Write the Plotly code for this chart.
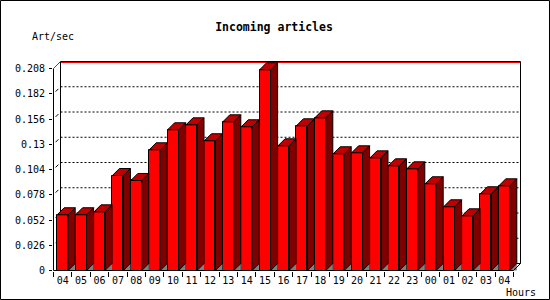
import plotly.graph_objects as go

# ---- data ----
hours = ["04", "05", "06", "07", "08", "09", "10", "11", "12", "13", "14", "15", "16",
         "17", "18", "19", "20", "21", "22", "23", "00", "01", "02", "03", "04"]
rate = [0.0574, 0.0574, 0.0604, 0.0978, 0.0927, 0.1243, 0.1449, 0.1500, 0.1336,
        0.1531, 0.1480, 0.2067, 0.1284, 0.1490, 0.1572, 0.1202, 0.1212, 0.1160,
        0.1078, 0.1047, 0.0893, 0.0656, 0.0563, 0.0790, 0.0872]
ytick_vals = [0, 0.026, 0.052, 0.078, 0.104, 0.13, 0.156, 0.182, 0.208]
ytick_text = ["0", "0.026", "0.052", "0.078", "0.104", "0.13", "0.156", "0.182", "0.208"]
title_text = "Incoming articles"
y_label = "Art/sec"
x_label = "Hours"

# ---- layout geometry ----
W, H = 550, 300
ML, MR, MT, MB = 53, 29, 61, 29
PW, PH = W - ML - MR, H - MT - MB
n = len(rate)
YMAX = ytick_vals[-1]
xpx = 18.4                      # px per category
ypx = 971.15                    # px per unit
DX = 7 / xpx                    # 3D depth in data units
DY = 7 / ypx
BW = 11 / xpx                   # bar front width
xr0 = -0.5 - 0.5 / xpx
xr1 = n - 0.5 + DX + 0.5 / xpx
yr0 = -0.5 / ypx
yr1 = YMAX + DY + 0.5 / ypx

FRONT = "#ff0000"
TOP = "#c00000"
SIDE = "#800000"
GREY = "#808080"

def px_x(p):
    return (p - ML) / PW

def px_y(p):
    return (H - MB - p) / PH

xs = list(range(n))

fig = go.Figure()
fig.add_trace(go.Bar(x=xs, y=rate, width=BW, marker=dict(color=FRONT, line=dict(color="black", width=1)),
                     hoverinfo="skip", showlegend=False))

# 3D faces built from data
top_x, top_y, side_x, side_y, sh_x, sh_y = [], [], [], [], [], []
for i, v in enumerate(rate):
    xl, xr = i - BW / 2, i + BW / 2
    top_x += [xl, xr, xr + DX, xl + DX, xl, None]
    top_y += [v, v, v + DY, v + DY, v, None]
    side_x += [xr, xr + DX, xr + DX, xr, xr, None]
    side_y += [v, v + DY, DY, 0, v, None]
    sh_x += [xr, xr + DX, xr + DX, xr, None]
    sh_y += [0, DY, 0, 0, None]

fig.add_trace(go.Scatter(x=sh_x, y=sh_y, mode="lines", fill="toself", fillcolor=GREY,
                         line=dict(color=GREY, width=0), hoverinfo="skip", showlegend=False))
fig.add_trace(go.Scatter(x=side_x, y=side_y, mode="lines", fill="toself", fillcolor=SIDE,
                         line=dict(color="black", width=1), hoverinfo="skip", showlegend=False))
fig.add_trace(go.Scatter(x=top_x, y=top_y, mode="lines", fill="toself", fillcolor=TOP,
                         line=dict(color="black", width=1), hoverinfo="skip", showlegend=False))

shapes = []
bl, br = -0.5 + DX, n - 0.5 + DX
# back plane grid lines
for v in ytick_vals[1:-1]:
    shapes.append(dict(type="line", xref="x", yref="y", x0=bl, x1=br, y0=v + DY, y1=v + DY,
                       line=dict(color="black", width=1, dash="2px,2px"), layer="below"))
    shapes.append(dict(type="line", xref="x", yref="y", x0=-0.5 + DX * 0.3, x1=-0.5 + DX * 0.7,
                       y0=v + DY * 0.3, y1=v + DY * 0.7, line=dict(color="black", width=1), layer="below"))
# back frame
shapes.append(dict(type="line", xref="x", yref="y", x0=bl, x1=br, y0=YMAX + DY, y1=YMAX + DY,
                   line=dict(color="black", width=1), layer="below"))
shapes.append(dict(type="line", xref="x", yref="y", x0=bl, x1=br, y0=YMAX + DY - 1 / ypx, y1=YMAX + DY - 1 / ypx,
                   line=dict(color="red", width=1), layer="below"))
shapes.append(dict(type="line", xref="x", yref="y", x0=bl, x1=bl, y0=DY, y1=YMAX + DY,
                   line=dict(color="black", width=1), layer="below"))
shapes.append(dict(type="line", xref="x", yref="y", x0=br, x1=br, y0=DY, y1=YMAX + DY,
                   line=dict(color="black", width=1), layer="below"))
shapes.append(dict(type="line", xref="x", yref="y", x0=bl, x1=br, y0=DY, y1=DY,
                   line=dict(color="black", width=1), layer="below"))
# front axes
shapes.append(dict(type="line", xref="x", yref="y", x0=-0.5, x1=-0.5, y0=0, y1=YMAX,
                   line=dict(color="black", width=1)))
shapes.append(dict(type="line", xref="x", yref="y", x0=-0.5, x1=n - 0.5, y0=0, y1=0,
                   line=dict(color="black", width=1)))
shapes.append(dict(type="line", xref="x", yref="y", x0=n - 0.5, x1=br, y0=0, y1=DY,
                   line=dict(color="black", width=1)))
shapes.append(dict(type="line", xref="x", yref="y", x0=-0.5, x1=bl, y0=YMAX, y1=YMAX + DY,
                   line=dict(color="red", width=1)))
# outer border
shapes.append(dict(type="rect", xref="paper", yref="paper", x0=px_x(0.5), x1=px_x(W - 0.5),
                   y0=px_y(H - 0.5), y1=px_y(0.5), line=dict(color="black", width=1)))

mono = "DejaVu Sans Mono"
annotations = [
    dict(text=y_label, xref="paper", yref="paper", x=px_x(30), y=px_y(37), xanchor="left", yanchor="middle",
         showarrow=False, font=dict(family=mono, size=10, color="black")),
    dict(text=x_label, xref="paper", yref="paper", x=px_x(504), y=px_y(292), xanchor="left", yanchor="middle",
         showarrow=False, font=dict(family=mono, size=10, color="black")),
]

fig.update_layout(
    width=W, height=H,
    margin=dict(l=ML, r=MR, t=MT, b=MB, pad=0),
    paper_bgcolor="white", plot_bgcolor="white",
    title=dict(text="<b>" + title_text + "</b>", x=274 / W, xanchor="center", xref="container",
               y=1 - 27 / H, yanchor="middle", yref="container",
               font=dict(family=mono, size=11.5, color="black")),
    shapes=shapes, annotations=annotations, bargap=0,
    showlegend=False,
)
fig.update_xaxes(range=[xr0, xr1], tickmode="array", tickvals=xs, ticktext=hours,
                 ticks="", showgrid=False, zeroline=False, showline=False, ticklabelstandoff=2,
                 tickfont=dict(family=mono, size=10, color="black"),
                 minor=dict(ticks="outside", ticklen=5, tickcolor="black", tickwidth=1,
                            tickmode="array", tickvals=[i - 0.5 for i in range(n + 1)]),
                 fixedrange=True)
fig.update_yaxes(range=[yr0, yr1], tickmode="array", tickvals=ytick_vals, ticktext=ytick_text,
                 ticks="outside", ticklen=3, tickcolor="black", showgrid=False, zeroline=False,
                 showline=False, ticklabelstandoff=2, tickfont=dict(family=mono, size=10, color="black"),
                 fixedrange=True)

fig.write_html("out.html", config={"displayModeBar": False})
